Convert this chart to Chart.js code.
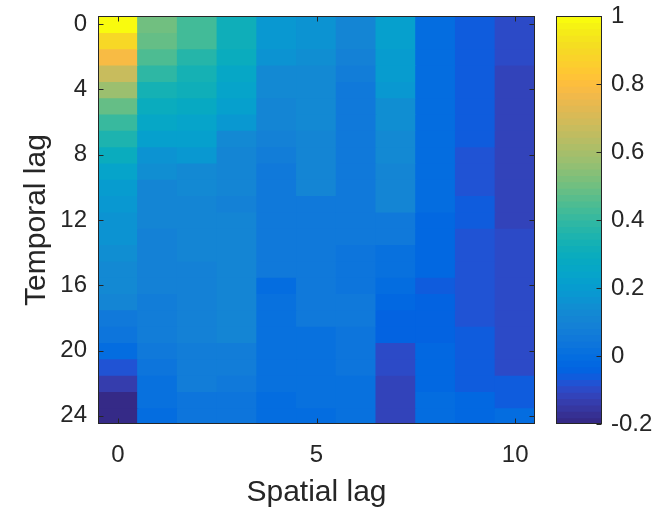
<!DOCTYPE html>
<html>
<head>
<meta charset="utf-8">
<script src="https://cdn.jsdelivr.net/npm/chart.js@4/dist/chart.umd.min.js"></script>
<style>
  html, body { margin: 0; padding: 0; background: #ffffff; }
  #wrap { position: relative; width: 664px; height: 509px; background: #ffffff; }
  #main { position: absolute; left: 0; top: 0; }
  #cb { position: absolute; left: 540px; top: 0; }
</style>
</head>
<body>
<div id="wrap">
  <canvas id="main" width="545" height="509"></canvas>
  <canvas id="cb" width="124" height="509"></canvas>
</div>
<script>
// ---------------- data ----------------
const spatialLags = [0, 1, 2, 3, 4, 5, 6, 7, 8, 9, 10];
const temporalLags = [0,1,2,3,4,5,6,7,8,9,10,11,12,13,14,15,16,17,18,19,20,21,22,23,24];

// correlation per spatial lag (one value per temporal lag 0..24)
const lag0  = [1.00, 0.90, 0.78, 0.68, 0.58, 0.49, 0.41, 0.35, 0.29, 0.24, 0.21, 0.19, 0.17, 0.16, 0.15, 0.13, 0.12, 0.10, 0.06, 0.03, -0.01, -0.08, -0.14, -0.19, -0.20];
const lag1  = [0.50, 0.48, 0.44, 0.39, 0.33, 0.30, 0.26, 0.22, 0.17, 0.14, 0.11, 0.10, 0.10, 0.09, 0.09, 0.09, 0.09, 0.08, 0.08, 0.08, 0.06, 0.04, 0.02, 0.01, -0.01];
const lag2  = [0.42, 0.42, 0.38, 0.34, 0.31, 0.28, 0.24, 0.22, 0.19, 0.13, 0.12, 0.11, 0.11, 0.10, 0.10, 0.09, 0.09, 0.09, 0.09, 0.09, 0.07, 0.07, 0.07, 0.03, 0.04];
const lag3  = [0.32, 0.32, 0.30, 0.26, 0.24, 0.22, 0.18, 0.12, 0.11, 0.10, 0.10, 0.09, 0.10, 0.10, 0.10, 0.10, 0.10, 0.10, 0.10, 0.10, 0.08, 0.08, 0.06, 0.04, 0.04];
const lag4  = [0.18, 0.18, 0.16, 0.13, 0.12, 0.11, 0.10, 0.09, 0.08, 0.05, 0.05, 0.05, 0.05, 0.05, 0.05, 0.05, 0.00, 0.01, 0.01, 0.01, 0.01, 0.01, 0.01, 0.00, 0.00];
const lag5  = [0.16, 0.16, 0.14, 0.13, 0.13, 0.12, 0.12, 0.11, 0.10, 0.10, 0.10, 0.06, 0.06, 0.06, 0.06, 0.06, 0.06, 0.06, 0.06, 0.01, 0.01, 0.01, 0.01, 0.01, 0.00];
const lag6  = [0.10, 0.10, 0.09, 0.08, 0.05, 0.05, 0.05, 0.05, 0.05, 0.05, 0.05, 0.05, 0.05, 0.05, 0.04, 0.04, 0.04, 0.05, 0.05, 0.04, 0.04, 0.04, 0.02, 0.01, 0.01];
const lag7  = [0.22, 0.22, 0.21, 0.20, 0.18, 0.15, 0.15, 0.13, 0.12, 0.11, 0.11, 0.10, 0.05, 0.05, 0.02, 0.01, 0.00, -0.02, -0.05, -0.05, -0.10, -0.10, -0.115, -0.115, -0.115];
const lag8  = [-0.01, -0.01, -0.01, -0.01, -0.01, -0.01, -0.01, -0.01, -0.01, -0.01, -0.01, -0.01, -0.03, -0.03, -0.03, -0.03, -0.06, -0.05, -0.05, -0.05, -0.02, -0.02, -0.02, -0.01, -0.01];
const lag9  = [-0.06, -0.06, -0.06, -0.06, -0.06, -0.06, -0.06, -0.06, -0.08, -0.08, -0.08, -0.06, -0.06, -0.08, -0.08, -0.08, -0.08, -0.08, -0.08, -0.06, -0.06, -0.06, -0.06, -0.02, -0.02];
const lag10 = [-0.10, -0.10, -0.10, -0.115, -0.115, -0.115, -0.115, -0.115, -0.115, -0.115, -0.115, -0.115, -0.115, -0.10, -0.10, -0.10, -0.10, -0.10, -0.10, -0.10, -0.10, -0.10, -0.06, -0.06, -0.01];

const columns = [lag0, lag1, lag2, lag3, lag4, lag5, lag6, lag7, lag8, lag9, lag10];

const xTicks = [0, 5, 10];
const yTicks = [0, 4, 8, 12, 16, 20, 24];
const cbTicks = [-0.2, 0, 0.2, 0.4, 0.6, 0.8, 1];
const cLim = [-0.2, 1];

const xTitle = 'Spatial lag';
const yTitle = 'Temporal lag';

// ---------------- colormap (parula, 64 levels) ----------------
const PARULA = [[0.2081,0.1663,0.5292],[0.2116,0.1898,0.5777],[0.2123,0.2138,0.6270],[0.2081,0.2386,0.6771],[0.1959,0.2645,0.7279],[0.1707,0.2919,0.7792],[0.1253,0.3242,0.8303],[0.0591,0.3598,0.8683],[0.0117,0.3875,0.8820],[0.0060,0.4086,0.8828],[0.0165,0.4266,0.8786],[0.0329,0.4430,0.8720],[0.0498,0.4586,0.8641],[0.0629,0.4737,0.8554],[0.0723,0.4887,0.8467],[0.0779,0.5040,0.8384],[0.0793,0.5200,0.8312],[0.0749,0.5375,0.8263],[0.0641,0.5570,0.8240],[0.0488,0.5772,0.8228],[0.0343,0.5966,0.8199],[0.0265,0.6137,0.8135],[0.0239,0.6287,0.8038],[0.0231,0.6418,0.7913],[0.0228,0.6535,0.7768],[0.0267,0.6642,0.7607],[0.0384,0.6743,0.7436],[0.0590,0.6838,0.7254],[0.0843,0.6928,0.7062],[0.1133,0.7015,0.6859],[0.1453,0.7098,0.6646],[0.1801,0.7177,0.6424],[0.2178,0.7250,0.6193],[0.2586,0.7317,0.5954],[0.3022,0.7376,0.5712],[0.3482,0.7424,0.5473],[0.3953,0.7459,0.5244],[0.4420,0.7481,0.5033],[0.4871,0.7491,0.4840],[0.5300,0.7491,0.4661],[0.5709,0.7485,0.4494],[0.6099,0.7473,0.4337],[0.6473,0.7456,0.4188],[0.6834,0.7435,0.4044],[0.7184,0.7411,0.3905],[0.7525,0.7384,0.3768],[0.7858,0.7356,0.3633],[0.8185,0.7327,0.3498],[0.8507,0.7299,0.3360],[0.8824,0.7274,0.3217],[0.9139,0.7258,0.3063],[0.9450,0.7261,0.2886],[0.9739,0.7314,0.2666],[0.9938,0.7455,0.2403],[0.9990,0.7653,0.2164],[0.9955,0.7861,0.1967],[0.9880,0.8066,0.1794],[0.9789,0.8271,0.1633],[0.9697,0.8481,0.1475],[0.9626,0.8705,0.1309],[0.9589,0.8949,0.1132],[0.9598,0.9218,0.0948],[0.9661,0.9514,0.0755],[0.9763,0.9831,0.0538]];

function rgbOf(c) {
  return 'rgb(' + Math.round(c[0]*255) + ',' + Math.round(c[1]*255) + ',' + Math.round(c[2]*255) + ')';
}
function colorFor(v) {
  const n = PARULA.length;
  let idx = Math.floor((v - cLim[0]) / (cLim[1] - cLim[0]) * n);
  idx = Math.max(0, Math.min(n - 1, idx));
  return rgbOf(PARULA[idx]);
}

// ---------------- shared styling ----------------
const FONT = "'Liberation Sans', Arial, Helvetica, sans-serif";
const TEXT = '#262626';
const AXIS = '#262626';
Chart.defaults.font.family = FONT;
Chart.defaults.color = TEXT;

function noPad(s) { s.paddingTop = 0; s.paddingBottom = 0; s.paddingLeft = 0; s.paddingRight = 0; }

// box + inward ticks (MATLAB style)
const boxPlugin = {
  id: 'boxTicks',
  afterDatasetsDraw(chart, args, opts) {
    const { ctx, chartArea: a } = chart;
    const L = 5;
    ctx.save();
    ctx.strokeStyle = AXIS;
    ctx.lineWidth = 1;
    const l = Math.round(a.left) + 0.5, r = Math.round(a.right) - 0.5;
    const t = Math.round(a.top) + 0.5, b = Math.round(a.bottom) - 0.5;
    ctx.strokeRect(l, t, r - l, b - t);
    ctx.beginPath();
    (opts.xScales || []).forEach(id => {
      const s = chart.scales[id];
      s.ticks.forEach(tk => {
        const x = Math.round(s.getPixelForValue(tk.value)) + 0.5;
        ctx.moveTo(x, b); ctx.lineTo(x, b - L);
        ctx.moveTo(x, t); ctx.lineTo(x, t + L);
      });
    });
    (opts.yScales || []).forEach(id => {
      const s = chart.scales[id];
      s.ticks.forEach(tk => {
        const y = Math.round(s.getPixelForValue(tk.value)) + 0.5;
        if (opts.yLeft) { ctx.moveTo(l, y); ctx.lineTo(l + L, y); }
        ctx.moveTo(r, y); ctx.lineTo(r - L, y);
      });
    });
    ctx.stroke();
    ctx.restore();
  }
};

// ---------------- heatmap ----------------
const datasets = temporalLags.map((t, ri) => ({
  data: spatialLags.map(s => ({ x: s, y: [t - 0.5, t + 0.5] })),
  backgroundColor: spatialLags.map((s, ci) => colorFor(columns[ci][ri])),
  borderWidth: 0,
  inflateAmount: 0.6,
  grouped: false,
  barPercentage: 1,
  categoryPercentage: 1
}));

new Chart(document.getElementById('main'), {
  type: 'bar',
  data: { datasets },
  plugins: [boxPlugin],
  options: {
    responsive: false,
    animation: false,
    devicePixelRatio: 1,
    layout: { padding: { top: 16, right: 10, left: 0, bottom: 0 } },
    plugins: {
      legend: { display: false },
      tooltip: { enabled: false },
      boxTicks: { xScales: ['x'], yScales: ['y'], yLeft: true }
    },
    scales: {
      x: {
        type: 'linear',
        offset: false,
        min: -0.5,
        max: 10.5,
        grid: { display: false, drawTicks: false },
        border: { display: false },
        afterBuildTicks: s => { s.ticks = xTicks.map(v => ({ value: v })); },
        afterFit: s => { s.height = 85; noPad(s); },
        ticks: { font: { size: 24 }, color: TEXT, padding: 17, maxRotation: 0, autoSkip: false,
                 callback: v => String(v) },
        title: { display: true, text: xTitle, font: { size: 30, lineHeight: 1.1 }, color: TEXT, padding: 0 }
      },
      y: {
        type: 'linear',
        reverse: true,
        min: -0.5,
        max: 24.5,
        grid: { display: false, drawTicks: false },
        border: { display: false },
        afterBuildTicks: s => { s.ticks = yTicks.map(v => ({ value: v })); },
        afterFit: s => { s.width = 98; noPad(s); },
        ticks: { font: { size: 24 }, color: TEXT, padding: 11, autoSkip: false,
                 callback: v => String(v) },
        title: { display: true, text: yTitle, font: { size: 30, lineHeight: 1.1 }, color: TEXT, padding: { top: 20, bottom: 0 } }
      }
    }
  }
});

// ---------------- colorbar ----------------
const nLev = PARULA.length;
const step = (cLim[1] - cLim[0]) / nLev;
const cbData = PARULA.map((c, i) => ({ x: 'cb', y: [cLim[0] + i * step, cLim[0] + (i + 1) * step] }));
const cbColors = PARULA.map(c => rgbOf(c));

new Chart(document.getElementById('cb'), {
  type: 'bar',
  data: {
    labels: ['cb'],
    datasets: [{
      data: cbData,
      backgroundColor: cbColors,
      borderWidth: 0,
      inflateAmount: 0.6,
      grouped: false,
      barPercentage: 1,
      categoryPercentage: 1
    }]
  },
  plugins: [boxPlugin],
  options: {
    responsive: false,
    animation: false,
    devicePixelRatio: 1,
    layout: { padding: { top: 16, left: 16, right: 0, bottom: 85 } },
    plugins: {
      legend: { display: false },
      tooltip: { enabled: false },
      boxTicks: { xScales: [], yScales: ['y'], yLeft: false }
    },
    scales: {
      x: { display: false },
      y: {
        type: 'linear',
        position: 'right',
        min: cLim[0],
        max: cLim[1],
        grid: { display: false, drawTicks: false },
        border: { display: false },
        afterBuildTicks: s => { s.ticks = cbTicks.map(v => ({ value: v })); },
        afterFit: s => { s.width = 62; noPad(s); },
        ticks: { font: { size: 24 }, color: TEXT, padding: 9, autoSkip: false,
                 callback: v => String(Math.round(v * 10) / 10) }
      }
    }
  }
});
</script>
</body>
</html>
